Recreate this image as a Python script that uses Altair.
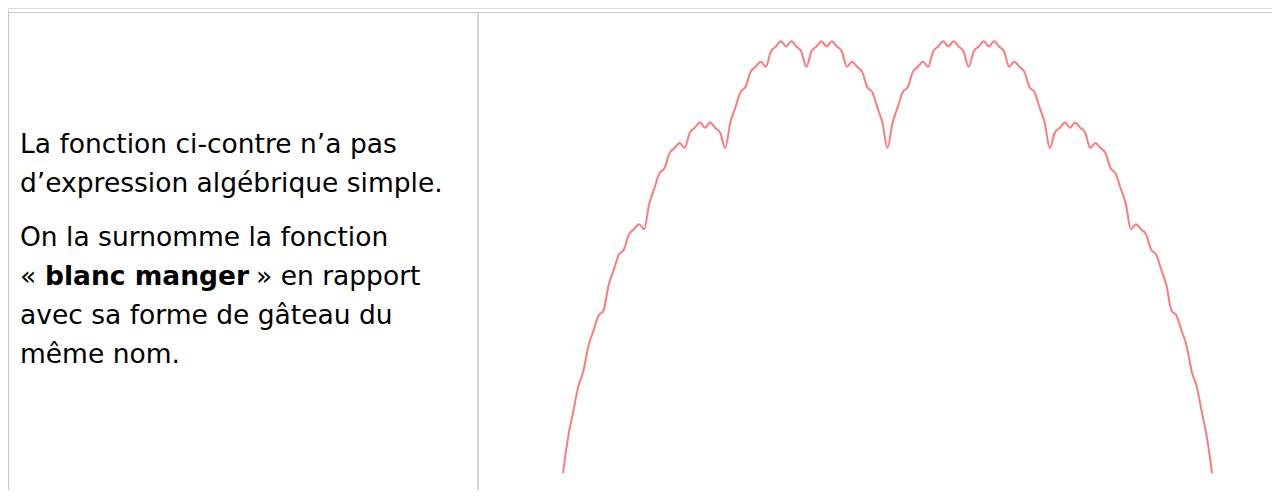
import altair as alt
import pandas as pd

# Heights of the red curve, in 1/128 of the unit (129 evenly spaced samples)
half_heights = [0, 7, 12, 17, 20, 25, 28, 31, 32, 37, 40, 43, 44, 47, 48, 49,
                48, 53, 56, 59, 60, 63, 64, 65, 64, 67, 68, 69, 68, 69, 68, 67,
                64, 69, 72, 75, 76, 79, 80, 81, 80, 83, 84, 85, 84, 85, 84, 83,
                80, 83, 84, 85, 84, 85, 84, 83, 80, 81, 80, 79, 76, 75, 72, 69,
                64]
heights = half_heights + half_heights[-2::-1]
positions = list(range(len(heights)))

text_lines = [
    "La fonction ci-contre n’a pas",
    "d’expression algébrique simple.",
    "On la surnomme la fonction",
    None,
    "avec sa forme de gâteau du",
    "même nom.",
]
line4_parts = ["«", "blanc manger", "» en rapport"]

W, H = 1264, 482
FONT = "DejaVu Sans"
FS = 26.5

df = pd.DataFrame({"x": positions, "h": [v / 128 for v in heights]})

curve = alt.Chart(df).mark_line(color="#ff5a5a", strokeWidth=2, opacity=0.8,
                                interpolate="monotone").encode(
    x=alt.X("x:Q", scale=alt.Scale(domain=[0, 128], range=[555, 1204]), axis=None),
    y=alt.Y("h:Q", scale=alt.Scale(domain=[0, 0.7], range=[465, 10]), axis=None),
)

one = pd.DataFrame({"a": [0]})
border_color = "#c8c8c8"
top_rule = alt.Chart(one).mark_rule(color=border_color, strokeWidth=1.2).encode(
    x=alt.value(0), x2=alt.value(W), y=alt.value(4.5))
left_rule = alt.Chart(one).mark_rule(color=border_color, strokeWidth=1.2).encode(
    x=alt.value(0.5), y=alt.value(4), y2=alt.value(H))
mid_rule = alt.Chart(one).mark_rule(color=border_color, strokeWidth=1.6).encode(
    x=alt.value(470), y=alt.value(4), y2=alt.value(H))

baselines = [145, 184, 238, 277, 316, 355]
layers = [top_rule, left_rule, mid_rule, curve]
for txt, yb in zip(text_lines, baselines):
    if txt is None:
        continue
    layers.append(
        alt.Chart(pd.DataFrame({"t": [txt]})).mark_text(
            align="left", baseline="alphabetic", font=FONT, fontSize=FS, color="#000000"
        ).encode(x=alt.value(12), y=alt.value(yb), text="t:N")
    )

part_x = [12, 37, 248]
part_w = ["normal", "bold", "normal"]
for txt, px, fw in zip(line4_parts, part_x, part_w):
    layers.append(
        alt.Chart(pd.DataFrame({"t": [txt]})).mark_text(
            align="left", baseline="alphabetic", font=FONT, fontSize=FS,
            fontWeight=fw, color="#000000"
        ).encode(x=alt.value(px), y=alt.value(baselines[3]), text="t:N")
    )

chart = alt.layer(*layers).properties(
    width=W, height=H, autosize=alt.AutoSizeParams(type="none"), padding=0
).configure_view(stroke=None).configure(background="white")

chart.save("out.html", embed_options={"renderer": "svg", "actions": False})
